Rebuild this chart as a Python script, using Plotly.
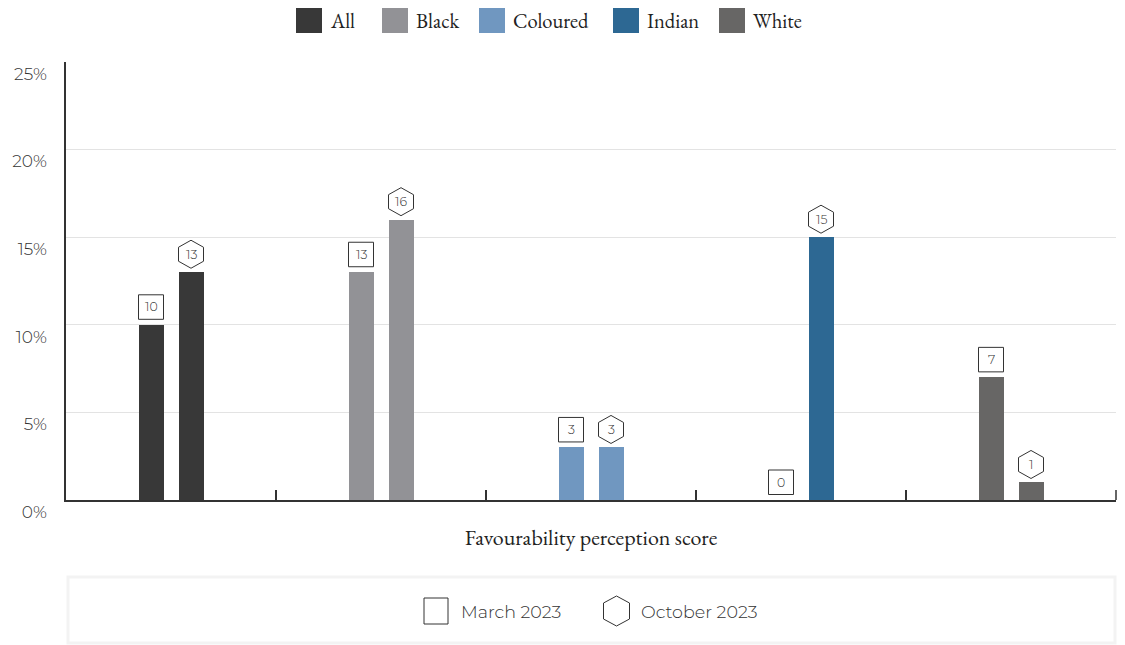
import plotly.graph_objects as go

groups = ["All", "Black", "Coloured", "Indian", "White"]
colors = ["#383838", "#929296", "#7097c0", "#2d6893", "#676665"]
march_2023 = [10, 13, 3, 0, 7]
october_2023 = [13, 16, 3, 15, 1]
period_labels = ["March 2023", "October 2023"]
y_ticks = [0, 5, 10, 15, 20, 25]
y_tick_text = ["0%", "5%", "10%", "15%", "20%", "25%"]

W, H = 1125, 645
L, R, T, B = 66, 9, 62, 145
PW, PH = W - L - R, H - T - B
SERIF = "EB Garamond, Garamond, Liberation Serif, serif"
SANS = "Montserrat, Open Sans, sans-serif"
TXT = "#333333"

def px_x(px):
    return (px - L) / PW

def px_y(py):
    return (H - B - py) / PH

cat_px = PW / len(groups)
bw = 25 / cat_px
offsets = [(-20 - 12.5) / cat_px, (20 - 12.5) / cat_px]

fig = go.Figure()
for g, c, m, o in zip(groups, colors, march_2023, october_2023):
    fig.add_trace(go.Bar(
        x=[g, g], y=[m, o], width=bw, offset=offsets,
        marker=dict(color=c, line=dict(width=0)),
        name=g, showlegend=False,
        hovertemplate=g + ": %{y}%<extra></extra>",
    ))

shapes = []
annotations = []

def hex_path(cx, cy, w=12.5, h=14, s=7):
    return (f"M{cx},{cy+h} L{cx+w},{cy+s} L{cx+w},{cy-s} L{cx},{cy-h} "
            f"L{cx-w},{cy-s} L{cx-w},{cy+s} Z")

for i, (m, o) in enumerate(zip(march_2023, october_2023)):
    shapes.append(dict(type="rect", xref="x", yref="y", xsizemode="pixel", ysizemode="pixel",
                       xanchor=i, yanchor=m, x0=-32.5, x1=-7.5, y0=5.5, y1=30,
                       line=dict(color=TXT, width=1), fillcolor="white", layer="above"))
    annotations.append(dict(x=i, y=m, xref="x", yref="y", xshift=-20, yshift=18, text=str(m),
                            showarrow=False, font=dict(family=SANS, size=12.5, color=TXT, weight=300)))
    shapes.append(dict(type="path", xref="x", yref="y", xsizemode="pixel", ysizemode="pixel",
                       xanchor=i, yanchor=o, path=hex_path(20, 18),
                       line=dict(color=TXT, width=1), fillcolor="white", layer="above"))
    annotations.append(dict(x=i, y=o, xref="x", yref="y", xshift=20, yshift=18, text=str(o),
                            showarrow=False, font=dict(family=SANS, size=12.5, color=TXT, weight=300)))

# right-end boundary tick
shapes.append(dict(type="line", xref="paper", yref="paper", x0=1, x1=1, y0=0, y1=10 / PH,
                   line=dict(color=TXT, width=1.5)))

# top legend (manual)
sq_left = [296, 382, 479, 613, 719]
for g, c, xl in zip(groups, colors, sq_left):
    shapes.append(dict(type="rect", xref="paper", yref="paper",
                       x0=px_x(xl), x1=px_x(xl + 26), y0=px_y(33), y1=px_y(8),
                       fillcolor=c, line=dict(width=0)))
    annotations.append(dict(x=px_x(xl + 32), y=px_y(20), xref="paper", yref="paper",
                            xanchor="left", yanchor="middle", text=g, showarrow=False,
                            font=dict(family=SERIF, size=20.5, color="#222222")))

# bottom legend box
shapes.append(dict(type="rect", xref="paper", yref="paper",
                   x0=px_x(68), x1=px_x(1115), y0=px_y(643), y1=px_y(577),
                   line=dict(color="#f3f3f3", width=3), fillcolor="white"))
shapes.append(dict(type="rect", xref="paper", yref="paper",
                   x0=px_x(424), x1=px_x(448), y0=px_y(624), y1=px_y(598),
                   line=dict(color=TXT, width=1), fillcolor="white"))
shapes.append(dict(type="path", xref="paper", yref="paper", xsizemode="pixel", ysizemode="pixel",
                   xanchor=px_x(616.5), yanchor=px_y(611), path=hex_path(0, 0, 13, 15, 8),
                   line=dict(color=TXT, width=1), fillcolor="white"))
annotations.append(dict(x=px_x(459), y=px_y(611), xref="paper", yref="paper", xanchor="left",
                        yanchor="middle", text=period_labels[0], showarrow=False,
                        font=dict(family=SANS, size=17.5, color=TXT, weight=300)))
annotations.append(dict(x=px_x(639), y=px_y(611), xref="paper", yref="paper", xanchor="left",
                        yanchor="middle", text=period_labels[1], showarrow=False,
                        font=dict(family=SANS, size=17.5, color=TXT, weight=300)))

fig.update_layout(
    width=W, height=H,
    margin=dict(l=L, r=R, t=T, b=B),
    paper_bgcolor="white", plot_bgcolor="white",
    barmode="overlay", bargap=0,
    showlegend=False,
    shapes=shapes, annotations=annotations,
    xaxis=dict(type="category", categoryorder="array", categoryarray=groups,
               showticklabels=False, ticks="inside", tickson="boundaries", ticklen=10,
               tickcolor=TXT, tickwidth=1.5, showline=True, linecolor=TXT, linewidth=1.8,
               showgrid=False, zeroline=False,
               title=dict(text="Favourability perception score", standoff=29,
                          font=dict(family=SERIF, size=22, color="#222222"))),
    yaxis=dict(range=[0, 25], tickmode="array", tickvals=y_ticks, ticktext=y_tick_text,
               showline=True, linecolor=TXT, linewidth=1.5,
               showgrid=True, gridcolor="#e3e3e3", gridwidth=1, zeroline=False,
               ticks="", ticklabelposition="outside bottom", ticklabelstandoff=14,
               tickfont=dict(family=SANS, size=17, color=TXT, weight=300)),
)

fig.write_html("out.html", include_plotlyjs=True, config={"displayModeBar": False},
               post_script="document.body.style.margin='0';document.body.style.overflow='hidden';")
